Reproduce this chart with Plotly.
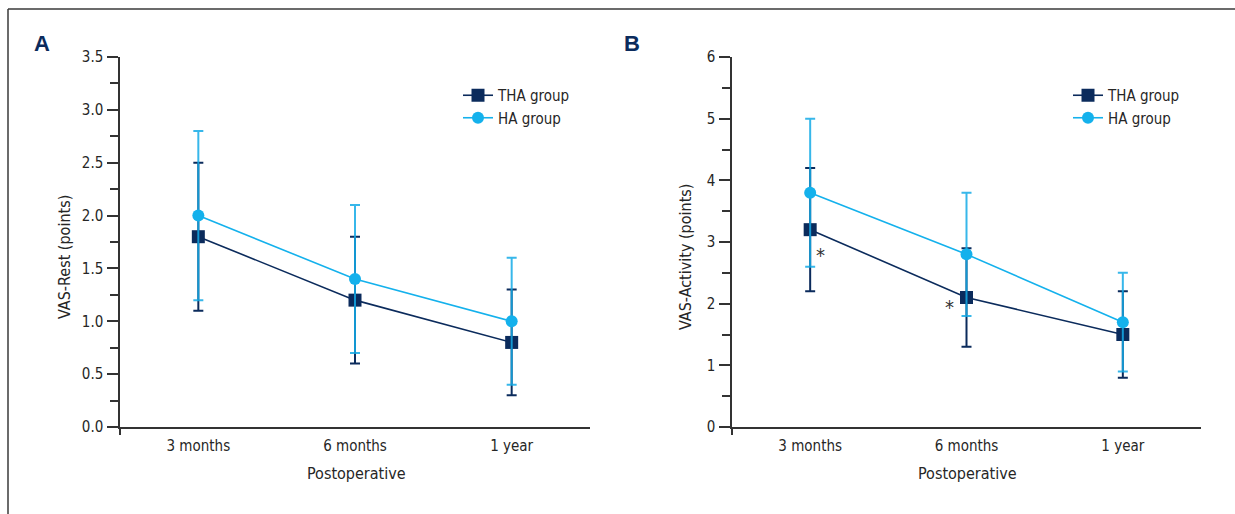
import plotly.graph_objects as go

# ---- data ----
categories = ["3 months", "6 months", "1 year"]

rest_tha_mean = [1.8, 1.2, 0.8]
rest_tha_sd = [0.7, 0.6, 0.5]
rest_ha_mean = [2.0, 1.4, 1.0]
rest_ha_sd = [0.8, 0.7, 0.6]

act_tha_mean = [3.2, 2.1, 1.5]
act_tha_sd = [1.0, 0.8, 0.7]
act_ha_mean = [3.8, 2.8, 1.7]
act_ha_sd = [1.2, 1.0, 0.8]

rest_ticks = [0.0, 0.5, 1.0, 1.5, 2.0, 2.5, 3.0, 3.5]
rest_ticktext = ["0.0", "0.5", "1.0", "1.5", "2.0", "2.5", "3.0", "3.5"]
act_ticks = [0, 1, 2, 3, 4, 5, 6]

# ---- style ----
NAVY = "#0b2b5c"
LIGHT = "#14b1ec"
LIGHT_ERR = "rgba(20,170,230,0.85)"
AXC = "#333333"
TXT = "#262626"
FONT = "DejaVu Sans Condensed, Liberation Sans Narrow, sans-serif"
FS = 15
W, H = 1235, 514

x_idx = list(range(len(categories)))

fig = go.Figure()


def add_pair(xa, ya, tha_m, tha_sd, ha_m, ha_sd, legend):
    fig.add_trace(go.Scatter(
        x=x_idx, y=tha_m, xaxis=xa, yaxis=ya, name="THA group", legend=legend,
        mode="lines+markers",
        line=dict(color=NAVY, width=1.6),
        marker=dict(symbol="square", size=13, color=NAVY),
        error_y=dict(type="data", array=tha_sd, visible=True, color=NAVY,
                     thickness=2, width=5),
    ))
    fig.add_trace(go.Scatter(
        x=x_idx, y=ha_m, xaxis=xa, yaxis=ya, name="HA group", legend=legend,
        mode="lines+markers",
        line=dict(color=LIGHT, width=1.6),
        marker=dict(symbol="circle", size=12, color=LIGHT),
        error_y=dict(type="data", array=ha_sd, visible=True, color=LIGHT_ERR,
                     thickness=2, width=5),
    ))


add_pair("x", "y", rest_tha_mean, rest_tha_sd, rest_ha_mean, rest_ha_sd, "legend")
add_pair("x2", "y2", act_tha_mean, act_tha_sd, act_ha_mean, act_ha_sd, "legend2")

ydom = [(H - 427) / H, (H - 57) / H]
xdomA = [120 / W, 590 / W]
xdomB = [732 / W, 1201 / W]

tickfont = dict(family=FONT, size=FS, color=TXT)


def xaxis_cfg(domain, anchor):
    return dict(
        domain=domain, anchor=anchor, range=[-0.5, 2.5], automargin=False,
        tickmode="array", tickvals=x_idx, ticktext=categories,
        ticks="", showline=True, linecolor=AXC, linewidth=1.5,
        showgrid=False, zeroline=False, tickfont=tickfont,
        ticklabelstandoff=4,
        minor=dict(tickmode="array", tickvals=[-0.5], ticks="outside",
                   ticklen=6, tickcolor=AXC, tickwidth=1.5, showgrid=False),
    )


def yaxis_cfg(anchor, rng, tickvals, ticktext, minor_dtick):
    return dict(
        domain=ydom, anchor=anchor, range=rng, automargin=False,
        tickmode="array", tickvals=tickvals, ticktext=ticktext,
        ticks="outside", ticklen=11, tickwidth=1.5, tickcolor=AXC,
        showline=True, linecolor=AXC, linewidth=1.5,
        showgrid=False, zeroline=False, tickfont=tickfont,
        ticklabelstandoff=1,
        minor=dict(dtick=minor_dtick, tick0=0, ticks="outside", ticklen=8,
                   tickcolor=AXC, tickwidth=1.5, showgrid=False),
    )


legfont = dict(family=FONT, size=15, color=TXT)

fig.update_layout(
    width=W, height=H, autosize=False,
    margin=dict(l=0, r=0, t=0, b=0, pad=0, autoexpand=False),
    paper_bgcolor="white", plot_bgcolor="white",
    font=dict(family=FONT, color=TXT),
    xaxis=xaxis_cfg(xdomA, "y"),
    yaxis=yaxis_cfg("x", [0, 3.5], rest_ticks, rest_ticktext, 0.25),
    xaxis2=xaxis_cfg(xdomB, "y2"),
    yaxis2=yaxis_cfg("x2", [0, 6], act_ticks, [str(v) for v in act_ticks], 0.5),
    legend=dict(x=458 / W, y=(H - 79) / H, xanchor="left", yanchor="top",
                bgcolor="rgba(0,0,0,0)", font=legfont, tracegroupgap=0),
    legend2=dict(x=1068 / W, y=(H - 79) / H, xanchor="left", yanchor="top",
                 bgcolor="rgba(0,0,0,0)", font=legfont, tracegroupgap=0),
    showlegend=True,
)


def ann(text, px, py, size=FS, angle=0, family=FONT, color=TXT):
    return dict(text=text, x=px / W, y=(H - py) / H, xref="paper", yref="paper",
                xanchor="center", yanchor="middle", textangle=angle,
                showarrow=False, font=dict(family=family, size=size, color=color))


LABF = "Liberation Sans, Arial, sans-serif"
annotations = [
    ann("<b>A</b>", 42, 43, size=22, family=LABF, color=NAVY),
    ann("<b>B</b>", 632, 43, size=22, family=LABF, color=NAVY),
    ann("VAS-Rest (points)", 64, 257, size=16, angle=-90),
    ann("VAS-Activity (points)", 685, 257, size=16, angle=-90),
    ann("Postoperative", 356, 473, size=16),
    ann("Postoperative", 967, 473, size=16),
    dict(text="*", x=0, y=act_tha_mean[0], xref="x2", yref="y2", xshift=10, yshift=-25,
         xanchor="center", yanchor="middle",
         showarrow=False, font=dict(family=FONT, size=20, color="#333333")),
    dict(text="*", x=1, y=act_tha_mean[1], xref="x2", yref="y2", xshift=-17, yshift=-9,
         xanchor="center", yanchor="middle",
         showarrow=False, font=dict(family=FONT, size=20, color="#333333")),
]
fig.update_layout(annotations=annotations)

fig.update_layout(shapes=[
    dict(type="line", xref="paper", yref="paper", x0=8 / W, x1=1, y0=(H - 9) / H, y1=(H - 9) / H,
         line=dict(color="#3a3a3a", width=1.5)),
    dict(type="line", xref="paper", yref="paper", x0=8 / W, x1=8 / W, y0=0, y1=(H - 9) / H,
         line=dict(color="#3a3a3a", width=1.5)),
])

post = (
    "document.documentElement.style.margin='0';"
    "document.documentElement.style.overflow='hidden';"
    "document.body.style.margin='0';document.body.style.padding='0';"
    "document.body.style.overflow='hidden';"
    "var d=document.getElementById('{plot_id}');"
    "d.style.position='absolute';d.style.top='0px';d.style.left='0px';"
)

fig.write_html(
    "out.html",
    config={"displayModeBar": False},
    post_script=post,
)
